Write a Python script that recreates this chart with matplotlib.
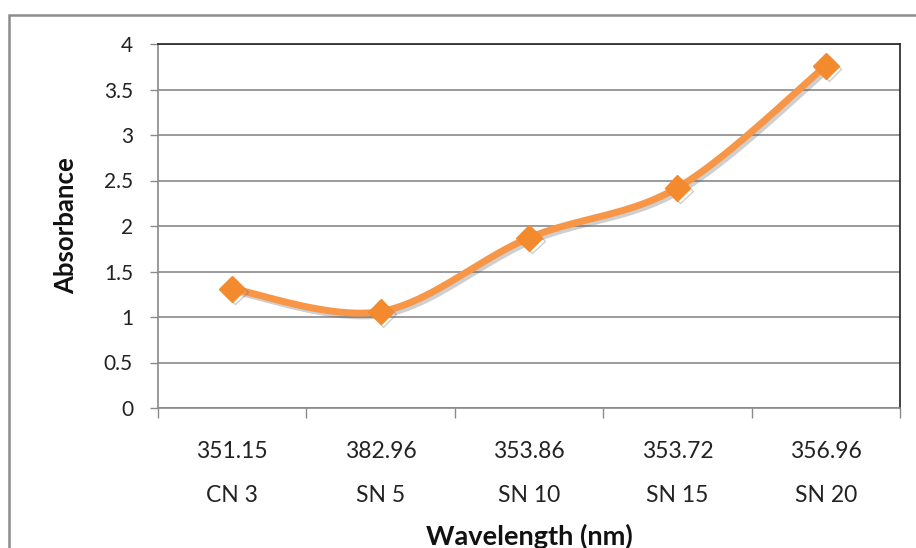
import numpy as np
import matplotlib
matplotlib.use("Agg")
import matplotlib.pyplot as plt
import matplotlib.patheffects as pe
from matplotlib.patches import Rectangle

# Data
samples = ["CN 3", "SN 5", "SN 10", "SN 15", "SN 20"]
wavelengths = ["351.15", "382.96", "353.86", "353.72", "356.96"]
absorbance = [1.31, 1.06, 1.87, 2.42, 3.76]
y_ticks = [0, 0.5, 1, 1.5, 2, 2.5, 3, 3.5, 4]
y_tick_labels = ["0", "0.5", "1", "1.5", "2", "2.5", "3", "3.5", "4"]

plt.rcParams["font.family"] = ["Lato", "DejaVu Sans"]

W, H = 916, 548
fig = plt.figure(figsize=(W / 100, H / 100), dpi=100)
fig.patch.set_facecolor("white")

# outer chart frame
fig.add_artist(Rectangle((9 / W, -0.2), 1.5, 1 - 15 / H + 0.2,
                         transform=fig.transFigure, fill=False,
                         edgecolor="#8c8c8c", linewidth=1.8))

ax = fig.add_axes([158 / W, 1 - 408 / H, (900 - 158) / W, (408 - 44) / H])
AX_W, AX_H = 900 - 158, 408 - 44


def smooth_curve(xs, ys, n=40):
    """Catmull-Rom style cubic Bezier smoothing through the points."""
    p = np.column_stack([xs, ys]).astype(float)
    ext = np.vstack([p[0], p, p[-1]])
    out = []
    t = np.linspace(0, 1, n)[:, None]
    for i in range(1, len(ext) - 2):
        p0, p1, p2, p3 = ext[i - 1], ext[i], ext[i + 1], ext[i + 2]
        c1 = p1 + (p2 - p0) / 6
        c2 = p2 - (p3 - p1) / 6
        seg = ((1 - t) ** 3) * p1 + 3 * ((1 - t) ** 2) * t * c1 \
            + 3 * (1 - t) * t ** 2 * c2 + t ** 3 * p2
        out.append(seg if i == 1 else seg[1:])
    seg = np.vstack(out)
    return seg[:, 0], seg[:, 1]


x = np.arange(len(samples))
sx, sy = smooth_curve(x, absorbance)

orange = "#F79646"
shadow = [pe.SimpleLineShadow(offset=(2, -2), shadow_color="#606060", alpha=0.3),
          pe.Normal()]
ax.plot(sx, sy, color=orange, linewidth=5, solid_capstyle="round",
        path_effects=shadow, zorder=3)
ax.plot(x, absorbance, linestyle="none", marker="D", markersize=13,
        color="#F48A2E", markeredgecolor="#F48A2E",
        path_effects=shadow, zorder=4)

ax.set_xlim(-0.5, len(samples) - 0.5)
ax.set_ylim(0, 4)

# gridlines
ax.set_yticks(y_ticks)
ax.set_yticklabels(y_tick_labels, fontsize=15, color="#222222")
ax.yaxis.grid(True, color="#8a8a8a", linewidth=1.2)
ax.set_axisbelow(True)
ax.tick_params(axis="y", length=6, width=1, color="#8a8a8a", pad=12)

# category boundary ticks
ax.set_xticks(np.arange(-0.5, len(samples), 1.0))
ax.set_xticklabels([])
ax.tick_params(axis="x", length=7, width=1, color="#8a8a8a")

for s in ["left", "bottom"]:
    ax.spines[s].set_color("#8a8a8a")
    ax.spines[s].set_linewidth(1.2)
for s in ["top", "right"]:
    ax.spines[s].set_color("#222222")
    ax.spines[s].set_linewidth(1.2)

# two-row category labels
trans = ax.get_xaxis_transform()
for xi, wl, sm in zip(x, wavelengths, samples):
    ax.text(xi, -44 / AX_H, wl, transform=trans, ha="center", va="center",
            fontsize=16.5, color="#222222")
    ax.text(xi, -87 / AX_H, sm, transform=trans, ha="center", va="center",
            fontsize=16.5, color="#222222")

ax.text((66 - 158) / AX_W, 0.5, "Absorbance", transform=ax.transAxes,
        rotation=90, ha="center", va="center", fontsize=18.5,
        fontweight="bold", color="#111111")
ax.text(0.5, -128 / AX_H, "Wavelength (nm)", transform=ax.transAxes,
        ha="center", va="center", fontsize=19.5, fontweight="bold",
        color="#111111")

fig.savefig("out.png", dpi=100, facecolor="white")
